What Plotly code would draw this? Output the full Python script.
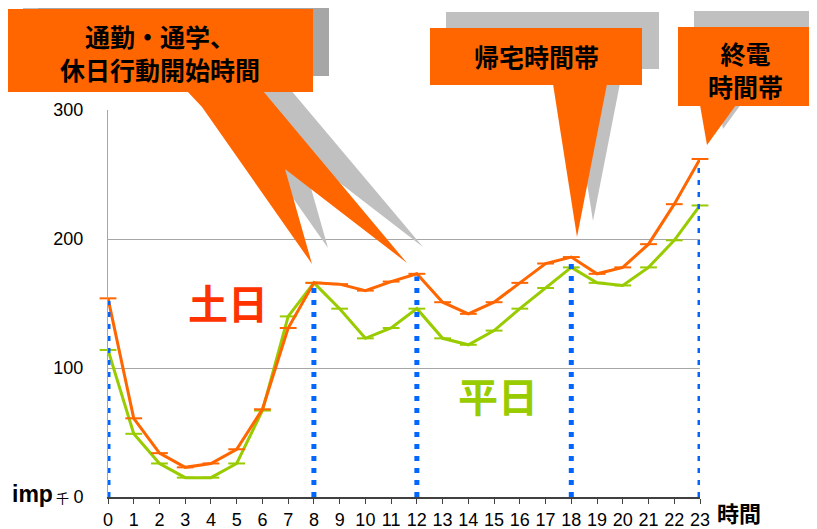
import plotly.graph_objects as go

# ---------------- data ----------------
hours = list(range(24))
weekend = [154, 61, 34, 23, 26, 37, 68, 131, 166, 165, 160, 167, 173, 151, 142, 151,
           166, 181, 186, 173, 178, 196, 227, 262]
weekday = [114, 49, 26, 15, 15, 26, 67, 140, 166, 146, 123, 131, 146, 123, 118, 129,
           146, 162, 178, 166, 164, 178, 199, 226]
highlight_hours = [0, 8, 12, 18, 23]
y_ticks = [0, 100, 200, 300]

# ---------------- layout geometry (page pixels; page body has an 8px margin) ----------------
OFF = 8
W, H = 817 - OFF, 529 - OFF
PX0, PX1 = 108, 700   # plot area on page
PY0, PY1 = 110, 497
PW, PH = PX1 - PX0, PY1 - PY0
L, T = PX0 - OFF, PY0 - OFF
R, B = W - (PX1 - OFF), H - (PY1 - OFF)


def px(x):
    return (x - PX0) / PW


def py(y):
    return (PY1 - y) / PH


def poly(points):
    return "M " + " L ".join(f"{px(x):.5f},{py(y):.5f}" for x, y in points) + " Z"


def rect_shape(x0, y0, x1, y1, color):
    return dict(type="rect", xref="paper", yref="paper",
                x0=px(x0), x1=px(x1), y0=py(y1), y1=py(y0),
                fillcolor=color, line=dict(width=0), layer="above")


def path_shape(points, color):
    return dict(type="path", xref="paper", yref="paper", path=poly(points),
                fillcolor=color, line=dict(width=0), layer="above")


ORANGE = "#FF6600"
GREEN = "#99CC00"
BLUE = "#0066FF"
SH_L = "#C0C0C0"
SH_D = "#A6A6A6"

fig = go.Figure()

fig.add_trace(go.Scatter(
    x=hours, y=weekday, mode="lines+markers",
    line=dict(color=GREEN, width=3),
    marker=dict(symbol="line-ew", size=12, line=dict(color=GREEN, width=2)),
    cliponaxis=False, showlegend=False, hoverinfo="skip"))

fig.add_trace(go.Scatter(
    x=hours, y=weekend, mode="lines+markers",
    line=dict(color=ORANGE, width=3),
    marker=dict(symbol="line-ew", size=12, line=dict(color=ORANGE, width=2)),
    cliponaxis=False, showlegend=False, hoverinfo="skip"))

for h in highlight_hours:
    fig.add_trace(go.Scatter(
        x=[h, h], y=[0, weekend[h] - 2], mode="lines",
        line=dict(color=BLUE, width=5, dash="5px,7px"),
        cliponaxis=False, showlegend=False, hoverinfo="skip"))

shapes = []
# callout 1 shadow
shapes.append(rect_shape(23, 0, 329, 76, SH_L))
shapes.append(rect_shape(38, 0, 329, 76, SH_D))
shapes.append(path_shape([(203, 76), (218, 91), (328, 248), (301, 153), (423, 247), (279, 76)], SH_L))
# callout 1
shapes.append(rect_shape(8, 9, 313, 92, ORANGE))
shapes.append(path_shape([(187, 91), (202, 107), (312, 264), (285, 169), (407, 263), (263, 91)], ORANGE))
# callout 2 shadow + box
shapes.append(rect_shape(446, 12, 659, 69, SH_L))
shapes.append(path_shape([(569, 68), (623, 68), (593, 221)], SH_L))
shapes.append(rect_shape(430, 28, 642, 85, ORANGE))
shapes.append(path_shape([(553, 84), (607, 84), (577, 237)], ORANGE))
# callout 3 shadow + box
shapes.append(rect_shape(694, 11, 817, 90, SH_L))
shapes.append(path_shape([(716, 89), (752, 89), (723, 129)], SH_L))
shapes.append(rect_shape(678, 27, 813, 106, ORANGE))
shapes.append(path_shape([(700, 105), (736, 105), (707, 145)], ORANGE))

JP = "Noto Sans CJK JP"
annotations = []


def ann(text, x, y, size, color="#000000", family=JP, weight="bold", xanchor="center"):
    annotations.append(dict(
        text=text, xref="paper", yref="paper", x=px(x), y=py(y),
        xanchor=xanchor, yanchor="middle", showarrow=False,
        font=dict(family=family, size=size, color=color, weight=weight)))


ann("通勤・通学、<br>休日行動開始時間", 160, 53, 25)
ann("帰宅時間帯", 536, 56, 25)
ann("終電<br>時間帯", 745, 70, 25)
ann("土日", 228, 302, 40, color="#FF3300")
ann("平日", 498, 395, 40, color=GREEN)
ann("時間", 739, 512, 22)
ann("imp", 32, 494, 23, family="Liberation Sans", weight="bold")
ann("千", 62, 497, 13, family=JP, weight="normal")

tickfont = dict(family="Liberation Sans Narrow, Liberation Sans, sans-serif", size=18, color="#000000")

fig.update_layout(
    width=W, height=H,
    margin=dict(l=L, r=R, t=T, b=B, pad=0, autoexpand=False),
    paper_bgcolor="white", plot_bgcolor="white",
    showlegend=False,
    xaxis=dict(range=[0, 23], tickmode="array", tickvals=hours, ticktext=[str(h) for h in hours],
               showgrid=False, zeroline=False, showline=True, linecolor="#404040", linewidth=1.5,
               ticks="outside", ticklen=5, tickcolor="#404040", tickwidth=1, automargin=False,
               tickfont=tickfont, ticklabelstandoff=1, fixedrange=True),
    yaxis=dict(range=[0, 300], tickmode="array", tickvals=y_ticks, ticktext=[str(v) for v in y_ticks],
               showgrid=True, gridcolor="#A6A6A6", gridwidth=1, zeroline=False, automargin=False,
               showline=True, linecolor="#A6A6A6", linewidth=1, ticks="",
               tickfont=tickfont, ticklabelstandoff=20, fixedrange=True),
    shapes=shapes,
    annotations=annotations,
)

fig.write_html("out.html")
